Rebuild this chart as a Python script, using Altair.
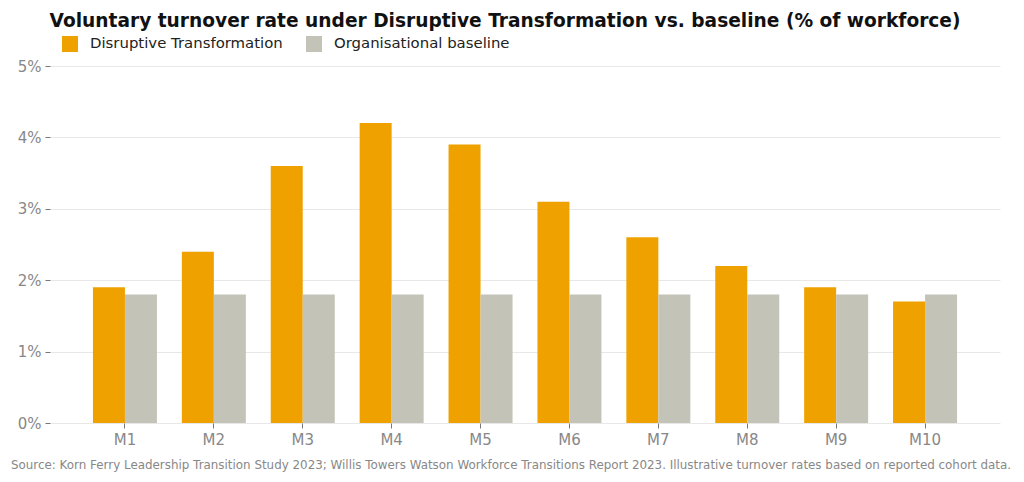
import altair as alt
import pandas as pd

months = ["M1", "M2", "M3", "M4", "M5", "M6", "M7", "M8", "M9", "M10"]
disruptive = [1.9, 2.4, 3.6, 4.2, 3.9, 3.1, 2.6, 2.2, 1.9, 1.7]
baseline = [1.8, 1.8, 1.8, 1.8, 1.8, 1.8, 1.8, 1.8, 1.8, 1.8]
series_names = ["Disruptive Transformation", "Organisational baseline"]
colors = ["#EFA100", "#C3C3B7"]
y_ticks = [0, 1, 2, 3, 4, 5]
title_text = "Voluntary turnover rate under Disruptive Transformation vs. baseline (% of workforce)"
source_text = ("Source: Korn Ferry Leadership Transition Study 2023; Willis Towers Watson Workforce "
               "Transitions Report 2023. Illustrative turnover rates based on reported cohort data.")

rows = []
for m, d, b in zip(months, disruptive, baseline):
    rows.append({"month": m, "series": series_names[0], "value": d})
    rows.append({"month": m, "series": series_names[1], "value": b})
df = pd.DataFrame(rows)

FONT = "DejaVu Sans"
GRAY = "#888888"

bars = alt.Chart(df).mark_bar(size=32).encode(
    x=alt.X("month:N", sort=months,
            scale=alt.Scale(paddingInner=0.28, paddingOuter=0.483),
            axis=alt.Axis(title=None, labelAngle=0, labelFontSize=15, labelColor=GRAY,
                          labelFont=FONT, tickColor="#777777", tickSize=5, domain=False,
                          labelPadding=4, grid=False)),
    xOffset=alt.XOffset("series:N", sort=series_names,
                        scale=alt.Scale(paddingInner=0, paddingOuter=0)),
    y=alt.Y("value:Q", scale=alt.Scale(domain=[0, 5], nice=False),
            axis=alt.Axis(title=None, values=y_ticks, labelExpr="datum.value + '%'",
                          labelFontSize=15, labelColor=GRAY, labelFont=FONT,
                          tickColor="#777777", tickSize=5, domain=False, grid=True,
                          gridColor="#E8E8E8", gridWidth=1, labelPadding=4)),
    color=alt.Color("series:N", sort=series_names,
                    scale=alt.Scale(domain=series_names, range=colors),
                    legend=alt.Legend(title=None, orient="none", direction="horizontal",
                                      legendX=12, legendY=-30, symbolType="square",
                                      symbolSize=256, symbolStrokeWidth=0,
                                      labelFontSize=14.9, labelFont=FONT, labelColor="#222222",
                                      labelLimit=400, columnPadding=23, symbolOffset=0,
                                      labelOffset=12)),
)

source = alt.Chart(pd.DataFrame({"t": [source_text]})).mark_text(
    align="left", baseline="middle", fontSize=11.9, font=FONT, color=GRAY
).encode(text="t:N", x=alt.value(-39), y=alt.value(399))

chart = alt.layer(bars, source).properties(
    width=950, height=357,
    title=alt.TitleParams(title_text, fontSize=18.6, font=FONT, fontWeight="bold",
                          color="#111111", anchor="middle", dx=-20, offset=5),
    autosize=alt.AutoSizeParams(type="none"),
    padding={"left": 50, "top": 66, "right": 24, "bottom": 59},
).configure_view(stroke=None)

chart.save("out.html", embed_options={"renderer": "svg", "actions": False})
